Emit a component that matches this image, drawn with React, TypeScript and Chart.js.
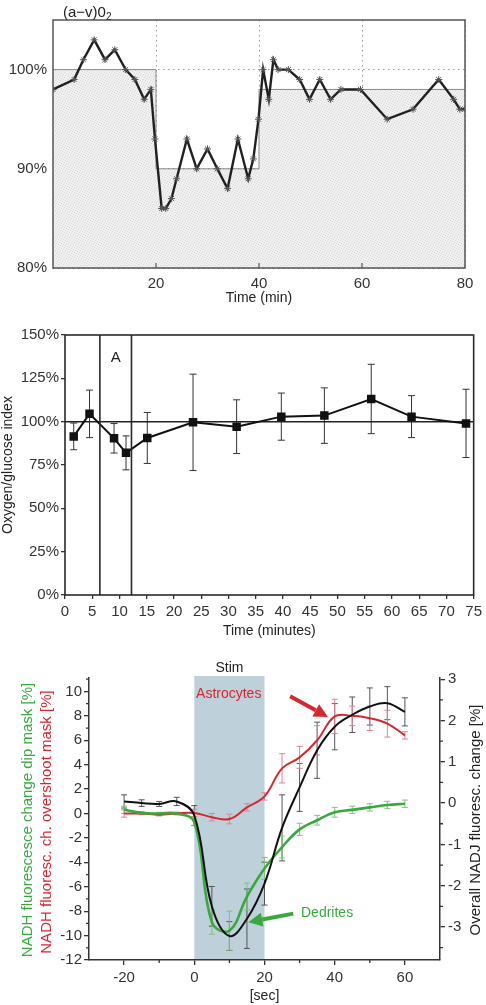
import React, { useEffect, useRef } from 'react';
import { Chart, registerables } from 'chart.js';

Chart.register(...registerables);

const FONT = '"Liberation Sans", Arial, Helvetica, sans-serif';

// ---------- Panel 1: (a-v)O2 ----------
const avTimes = [0, 4.1, 5.9, 8.0, 10.1, 12.0, 14.1, 15.9, 17.7, 19.0, 19.8, 21.1, 21.9, 23.0, 24.0, 26.0, 27.9, 30.0, 31.9, 33.9, 35.9, 37.9, 38.9, 39.9, 40.8, 41.9, 42.8, 43.7, 45.7, 47.9, 49.8, 51.8, 53.9, 55.9, 59.7, 64.9, 69.9, 74.9, 77.8, 79.0, 80];
const avValues = [98, 99, 101, 103, 101, 102, 100, 99, 97, 98, 93, 86, 86, 87, 89, 93, 90, 92, 90, 88, 93, 89, 91, 95, 100, 97, 101, 100, 100, 99, 97, 99, 97, 98, 98, 95, 96, 99, 97, 96, 96];
const avBaselineTimes = [0, 20, 40, 80];
const avBaselineLevels = [100, 90, 98, 98];
const avXTicks = [20, 40, 60, 80];
const avYTicks = [80, 90, 100];

// ---------- Panel 2: Oxygen/glucose index ----------
const ogTimes = [1.6, 4.5, 9.0, 11.2, 15.1, 23.5, 31.5, 39.7, 47.6, 56.2, 63.6, 73.6];
const ogValues = [91.5, 104.5, 90.4, 82.0, 90.6, 99.6, 97.1, 102.9, 103.5, 113.1, 102.9, 99.0];
const ogErrors = [7.7, 13.7, 8.5, 9.8, 14.7, 27.8, 15.5, 13.6, 16.0, 20.0, 12.1, 19.7];
const ogRefLevel = 100;
const ogRefSpan = [0, 75];
const ogPhaseA = [6.4, 12.2];
const ogXTicks = [0, 5, 10, 15, 20, 25, 30, 35, 40, 45, 50, 55, 60, 65, 70, 75];
const ogYTicks = [0, 25, 50, 75, 100, 125, 150];

// ---------- Panel 3: NADH fluorescence ----------
const nTimes = [-20, -15, -10, -5, 0, 5, 10, 15, 20, 25, 30, 35, 40, 45, 50, 55, 60];
const overallValues = [0.04, 0.0, -0.02, 0.04, -0.3, -2.5, -3.22, -2.8, -1.95, -0.6, 0.38, 1.28, 1.85, 2.14, 2.34, 2.42, 2.21];
const overallErrors = [0.16, 0.08, 0.06, 0.1, 0.24, 0.48, 0.35, 0.72, 0.52, 0.8, 0.58, 0.68, 0.56, 0.43, 0.45, 0.4, 0.34];
const dendriteValues = [0.3, 0.05, 0.0, 0.0, -0.7, -8.9, -9.6, -6.8, -4.5, -2.75, -1.3, -0.55, 0.1, 0.3, 0.5, 0.7, 0.8];
const dendriteErrors = [0.3, 0.1, 0.1, 0.1, 0.3, 1.0, 1.6, 1.1, 0.9, 0.9, 0.5, 0.4, 0.4, 0.3, 0.3, 0.3, 0.3];
const astroValues = [0.0, 0.0, -0.1, 0.0, 0.05, -0.3, -0.45, 0.5, 1.4, 3.7, 4.6, 6.0, 7.96, 8.0, 7.8, 7.36, 6.4];
const astroErrors = [0.3, 0.1, 0.1, 0.1, 0.3, 0.3, 0.4, 0.3, 0.3, 1.2, 0.9, 1.2, 1.4, 0.8, 1.0, 1.1, 0.3];
const stimSpan = [0, 20];
const nXTicks = [-20, 0, 20, 40, 60];
const nXMinor = [-10, 10, 30, 50];
const nLeftTicks = [-12, -10, -8, -6, -4, -2, 0, 2, 4, 6, 8, 10];
const nLeftMinor = [-11, -9, -7, -5, -3, -1, 1, 3, 5, 7, 9, 11];
const nRightTicks = [-3, -2, -1, 0, 1, 2, 3];
const nRightMinor = [-3.5, -2.5, -1.5, -0.5, 0.5, 1.5, 2.5];

const GREEN = 'rgb(58,168,64)';
const RED = 'rgb(212,40,48)';

const fixTicks = (vals: number[]) => (scale: any) => {
  scale.ticks = vals.map((v) => ({ value: v }));
};
const f = (size: number) => ({ family: FONT, size });

const errorBarPlugin = {
  id: 'errorBars',
  beforeDatasetsDraw(chart: any) {
    const ctx = chart.ctx;
    chart.data.datasets.forEach((ds: any, i: number) => {
      if (!ds.errors) return;
      const meta = chart.getDatasetMeta(i);
      const ys = chart.scales[meta.yAxisID];
      ctx.save();
      ctx.strokeStyle = ds.errorColor || '#000';
      ctx.lineWidth = ds.errorWidth || 1;
      meta.data.forEach((pt: any, j: number) => {
        const v = ds.data[j].y;
        const e = ds.errors[j];
        const yt = ys.getPixelForValue(v + e);
        const yb = ys.getPixelForValue(v - e);
        const c = ds.capHalf || 3;
        ctx.beginPath();
        ctx.moveTo(pt.x, yt);
        ctx.lineTo(pt.x, yb);
        ctx.moveTo(pt.x - c, yt);
        ctx.lineTo(pt.x + c, yt);
        ctx.moveTo(pt.x - c, yb);
        ctx.lineTo(pt.x + c, yb);
        ctx.stroke();
      });
      ctx.restore();
    });
  },
};

function arrow(ctx: any, x1: number, y1: number, x2: number, y2: number, color: string, lw: number, headLen: number, headHalf: number) {
  const a = Math.atan2(y2 - y1, x2 - x1);
  const bx = x2 - headLen * Math.cos(a);
  const by = y2 - headLen * Math.sin(a);
  ctx.save();
  ctx.strokeStyle = color;
  ctx.fillStyle = color;
  ctx.lineWidth = lw;
  ctx.beginPath();
  ctx.moveTo(x1, y1);
  ctx.lineTo(bx, by);
  ctx.stroke();
  ctx.beginPath();
  ctx.moveTo(x2, y2);
  ctx.lineTo(bx + headHalf * Math.sin(a), by - headHalf * Math.cos(a));
  ctx.lineTo(bx - headHalf * Math.sin(a), by + headHalf * Math.cos(a));
  ctx.closePath();
  ctx.fill();
  ctx.restore();
}

function rotatedText(ctx: any, text: string, x: number, y: number, color: string, size: number) {
  ctx.save();
  ctx.translate(x, y);
  ctx.rotate(-Math.PI / 2);
  ctx.font = `${size}px ${FONT}`;
  ctx.fillStyle = color;
  ctx.textAlign = 'center';
  ctx.textBaseline = 'middle';
  ctx.fillText(text, 0, 0);
  ctx.restore();
}

export default function App() {
  const r1 = useRef<HTMLCanvasElement>(null);
  const r2 = useRef<HTMLCanvasElement>(null);
  const r3 = useRef<HTMLCanvasElement>(null);

  useEffect(() => {
    // stipple pattern for panel 1 fill (scattered dots, no diagonal striping)
    const pc = document.createElement('canvas');
    pc.width = 5;
    pc.height = 5;
    const pctx = pc.getContext('2d')!;
    pctx.fillStyle = '#f0f0f0';
    pctx.fillRect(0, 0, 5, 5);
    pctx.fillStyle = '#d9d9d9';
    [[0, 0], [2, 1], [4, 2], [1, 3], [3, 4]].forEach(([px, py]) => pctx.fillRect(px, py, 1, 1));
    const pattern = r1.current!.getContext('2d')!.createPattern(pc, 'repeat');

    // ---------- Chart 1 ----------
    const box1 = {
      id: 'box1',
      afterDraw(chart: any) {
        const { ctx, chartArea: ca, scales } = chart;
        ctx.save();
        ctx.strokeStyle = '#555';
        ctx.lineWidth = 1.5;
        ctx.strokeRect(ca.left, ca.top, ca.right - ca.left, ca.bottom - ca.top);
        ctx.lineWidth = 1.2;
        avXTicks.slice(0, 3).forEach((v) => {
          const x = scales.x.getPixelForValue(v);
          ctx.beginPath();
          ctx.moveTo(x, ca.bottom);
          ctx.lineTo(x, ca.bottom - 5);
          ctx.stroke();
        });
        ctx.fillStyle = '#222';
        ctx.textBaseline = 'alphabetic';
        ctx.textAlign = 'left';
        ctx.font = `15px ${FONT}`;
        const main = '(a\u2212v)0';
        ctx.fillText(main, 63, 17);
        const w = ctx.measureText(main).width;
        ctx.font = `10px ${FONT}`;
        ctx.fillText('2', 63 + w, 20);
        ctx.restore();
      },
    };

    const c1 = new Chart(r1.current!, {
      type: 'line',
      data: {
        datasets: [
          {
            data: avTimes.map((x, i) => ({ x, y: avValues[i] })),
            borderColor: '#202020',
            borderWidth: 2.4,
            tension: 0,
            pointStyle: 'star',
            pointRadius: 3.5,
            pointBorderColor: '#555',
            pointBackgroundColor: '#555',
            pointBorderWidth: 1,
            fill: false,
          },
          {
            data: avBaselineTimes.map((x, i) => ({ x, y: avBaselineLevels[i] })),
            stepped: 'before',
            borderColor: '#8a8a8a',
            borderWidth: 1,
            pointRadius: 0,
            fill: 'start',
            backgroundColor: pattern as any,
          },
        ],
      } as any,
      options: {
        animation: false,
        responsive: false,
        devicePixelRatio: 1,
        events: [],
        layout: { padding: { left: 0, right: 21, top: 20, bottom: 0 } },
        plugins: { legend: { display: false }, tooltip: { enabled: false } },
        scales: {
          x: {
            type: 'linear',
            min: 0,
            max: 80,
            afterBuildTicks: fixTicks(avXTicks),
            afterFit: (s: any) => { s.height = 39; },
            grid: { color: '#9a9a9a', lineWidth: 1, drawTicks: false },
            border: { display: false, dash: [1.5, 3.5] },
            ticks: { padding: 7, font: f(15), color: '#333', maxRotation: 0 },
            title: { display: true, text: 'Time (min)', font: f(14), color: '#222', padding: 0 },
          },
          y: {
            type: 'linear',
            min: 80,
            max: 105,
            afterBuildTicks: fixTicks(avYTicks),
            afterFit: (s: any) => { s.width = 53; },
            grid: { color: '#9a9a9a', lineWidth: 1, drawTicks: false },
            border: { display: false, dash: [1.5, 3.5] },
            ticks: { padding: 6, font: f(15), color: '#333', callback: (v: any) => v + '%' },
          },
        },
      } as any,
      plugins: [box1],
    });

    // ---------- Chart 2 ----------
    const box2 = {
      id: 'box2',
      afterDraw(chart: any) {
        const { ctx, chartArea: ca, scales } = chart;
        ctx.save();
        ctx.strokeStyle = '#2a2a2a';
        ctx.lineWidth = 1.6;
        ctx.strokeRect(ca.left, ca.top, ca.right - ca.left, ca.bottom - ca.top);
        ogPhaseA.forEach((v) => {
          const x = scales.x.getPixelForValue(v);
          ctx.beginPath();
          ctx.moveTo(x, ca.top);
          ctx.lineTo(x, ca.bottom);
          ctx.stroke();
        });
        ctx.fillStyle = '#222';
        ctx.font = `15px ${FONT}`;
        ctx.textAlign = 'center';
        ctx.textBaseline = 'middle';
        const xm = scales.x.getPixelForValue((ogPhaseA[0] + ogPhaseA[1]) / 2);
        ctx.fillText('A', xm, scales.y.getPixelForValue(137));
        ctx.restore();
      },
    };

    const c2 = new Chart(r2.current!, {
      type: 'line',
      data: {
        datasets: [
          {
            data: ogTimes.map((x, i) => ({ x, y: ogValues[i] })),
            errors: ogErrors,
            errorColor: '#333',
            errorWidth: 1,
            capHalf: 3.5,
            borderColor: '#111',
            borderWidth: 2,
            tension: 0,
            pointStyle: 'rect',
            pointRadius: 6,
            pointBackgroundColor: '#111',
            pointBorderColor: '#111',
            pointBorderWidth: 0,
          },
          {
            data: ogRefSpan.map((x) => ({ x, y: ogRefLevel })),
            borderColor: '#222',
            borderWidth: 1.5,
            pointRadius: 0,
          },
        ],
      } as any,
      options: {
        animation: false,
        responsive: false,
        devicePixelRatio: 1,
        events: [],
        layout: { padding: { left: 0, right: 8, top: 30, bottom: 0 } },
        plugins: { legend: { display: false }, tooltip: { enabled: false } },
        scales: {
          x: {
            type: 'linear',
            min: 0,
            max: 75,
            afterBuildTicks: fixTicks(ogXTicks),
            afterFit: (s: any) => { s.height = 45; },
            grid: { drawOnChartArea: false, drawTicks: true, tickLength: 4, color: '#333', lineWidth: 1.3 },
            border: { display: false },
            ticks: { padding: 4, font: f(15), color: '#333', autoSkip: false, maxRotation: 0 },
            title: { display: true, text: 'Time (minutes)', font: f(14), color: '#222', padding: 0 },
          },
          y: {
            type: 'linear',
            min: 0,
            max: 150,
            afterBuildTicks: fixTicks(ogYTicks),
            afterFit: (s: any) => { s.width = 65; },
            grid: { drawOnChartArea: false, drawTicks: true, tickLength: 4, color: '#333', lineWidth: 1.3 },
            border: { display: false },
            ticks: { padding: 2, font: f(15), color: '#333', callback: (v: any) => v + '%' },
            title: { display: true, text: 'Oxygen/glucose index', font: f(14), color: '#222', padding: 0 },
          },
        },
      } as any,
      plugins: [errorBarPlugin, box2],
    });

    // ---------- Chart 3 ----------
    const stimPlugin = {
      id: 'stim',
      beforeDatasetsDraw(chart: any) {
        const { ctx, chartArea: ca, scales } = chart;
        const x0 = scales.x.getPixelForValue(stimSpan[0]);
        const x1 = scales.x.getPixelForValue(stimSpan[1]);
        ctx.save();
        ctx.fillStyle = 'rgb(190,208,218)';
        ctx.fillRect(x0, ca.top - 2, x1 - x0, ca.bottom - ca.top + 1);
        ctx.restore();
      },
    };
    const deco3 = {
      id: 'deco3',
      afterDraw(chart: any) {
        const { ctx, chartArea: ca, scales } = chart;
        const xs = scales.x;
        const yl = scales.y;
        const yr = scales.y2;
        ctx.save();
        ctx.strokeStyle = '#333';
        ctx.lineWidth = 1.3;
        ctx.beginPath();
        nLeftMinor.forEach((v) => {
          if (v > yl.max) return;
          const y = yl.getPixelForValue(v);
          ctx.moveTo(ca.left, y);
          ctx.lineTo(ca.left - 3, y);
        });
        nRightMinor.forEach((v) => {
          const y = yr.getPixelForValue(v);
          ctx.moveTo(ca.right, y);
          ctx.lineTo(ca.right + 3, y);
        });
        nXMinor.forEach((v) => {
          const x = xs.getPixelForValue(v);
          ctx.moveTo(x, ca.bottom);
          ctx.lineTo(x, ca.bottom + 3);
        });
        ctx.stroke();

        ctx.font = `14px ${FONT}`;
        ctx.textBaseline = 'middle';
        ctx.textAlign = 'center';
        ctx.fillStyle = '#222';
        ctx.fillText('Stim', xs.getPixelForValue((stimSpan[0] + stimSpan[1]) / 2), ca.top - 10);
        ctx.textAlign = 'left';
        ctx.fillStyle = RED;
        ctx.fillText('Astrocytes', xs.getPixelForValue(0.5), yl.getPixelForValue(9.75));
        ctx.fillStyle = GREEN;
        ctx.fillText('Dedrites', xs.getPixelForValue(30.4), yl.getPixelForValue(-8.2));

        arrow(ctx, xs.getPixelForValue(27.3), yl.getPixelForValue(9.6), xs.getPixelForValue(38.1), yl.getPixelForValue(7.9), RED, 4, 14, 7);
        arrow(ctx, xs.getPixelForValue(28.2), yl.getPixelForValue(-8.2), xs.getPixelForValue(15.4), yl.getPixelForValue(-8.9), GREEN, 4, 14, 7);

        rotatedText(ctx, 'NADH fluorescesce change dip mask [%]', 28, 180, GREEN, 15);
        rotatedText(ctx, 'NADH fluoresc. ch. overshoot mask [%]', 47, 182, RED, 15);
        rotatedText(ctx, 'Overall NADJ fluoresc. change [%]', 476, 180, '#222', 15);
        ctx.restore();
      },
    };

    const c3 = new Chart(r3.current!, {
      type: 'line',
      data: {
        datasets: [
          {
            data: nTimes.map((x, i) => ({ x, y: overallValues[i] })),
            yAxisID: 'y2',
            errors: overallErrors,
            errorColor: 'rgb(85,85,85)',
            errorWidth: 1,
            capHalf: 3,
            borderColor: '#111',
            borderWidth: 2,
            tension: 0.4,
            pointRadius: 0,
          },
          {
            data: nTimes.map((x, i) => ({ x, y: dendriteValues[i] })),
            yAxisID: 'y',
            errors: dendriteErrors,
            errorColor: 'rgb(130,195,120)',
            errorWidth: 1,
            capHalf: 3,
            borderColor: GREEN,
            borderWidth: 2.6,
            tension: 0.4,
            pointRadius: 0,
          },
          {
            data: nTimes.map((x, i) => ({ x, y: astroValues[i] })),
            yAxisID: 'y',
            errors: astroErrors,
            errorColor: 'rgb(220,130,150)',
            errorWidth: 1,
            capHalf: 3,
            borderColor: RED,
            borderWidth: 2,
            tension: 0.4,
            pointRadius: 0,
          },
        ],
      } as any,
      options: {
        animation: false,
        responsive: false,
        devicePixelRatio: 1,
        events: [],
        layout: { padding: { left: 0, right: 0, top: 38, bottom: 0 } },
        plugins: { legend: { display: false }, tooltip: { enabled: false } },
        scales: {
          x: {
            type: 'linear',
            min: -30,
            max: 70,
            afterBuildTicks: fixTicks(nXTicks),
            afterFit: (s: any) => { s.height = 45; },
            grid: { drawOnChartArea: false, drawTicks: true, tickLength: 5, color: '#333', lineWidth: 1.3 },
            border: { display: true, color: '#333', width: 1.5 },
            ticks: { padding: 4, font: f(15), color: '#333', autoSkip: false, maxRotation: 0 },
            title: { display: true, text: '[sec]', font: f(14), color: '#222', padding: 0 },
          },
          y: {
            type: 'linear',
            position: 'left',
            min: -12,
            max: 11.1,
            afterBuildTicks: fixTicks(nLeftTicks),
            afterFit: (s: any) => { s.width = 89; },
            grid: { drawOnChartArea: false, drawTicks: true, tickLength: 5, color: '#333', lineWidth: 1.3 },
            border: { display: true, color: '#333', width: 1.5 },
            ticks: { padding: 2, font: f(15), color: '#333' },
          },
          y2: {
            type: 'linear',
            position: 'right',
            min: -3.8,
            max: 3.03,
            afterBuildTicks: fixTicks(nRightTicks),
            afterFit: (s: any) => { s.width = 46; },
            grid: { drawOnChartArea: false, drawTicks: true, tickLength: 5, color: '#333', lineWidth: 1.3 },
            border: { display: true, color: '#333', width: 1.5 },
            ticks: { padding: 3, font: f(15), color: '#333' },
          },
        },
      } as any,
      plugins: [stimPlugin, errorBarPlugin, deco3],
    });

    return () => {
      c1.destroy();
      c2.destroy();
      c3.destroy();
    };
  }, []);

  return (
    <div style={{ position: 'absolute', left: 0, top: 0, width: 486, height: 1005, background: '#fff' }}>
      <canvas ref={r1} width={486} height={307} style={{ position: 'absolute', left: 0, top: 0 }} />
      <canvas ref={r2} width={486} height={335} style={{ position: 'absolute', left: 0, top: 305 }} />
      <canvas ref={r3} width={486} height={365} style={{ position: 'absolute', left: 0, top: 640 }} />
    </div>
  );
}
